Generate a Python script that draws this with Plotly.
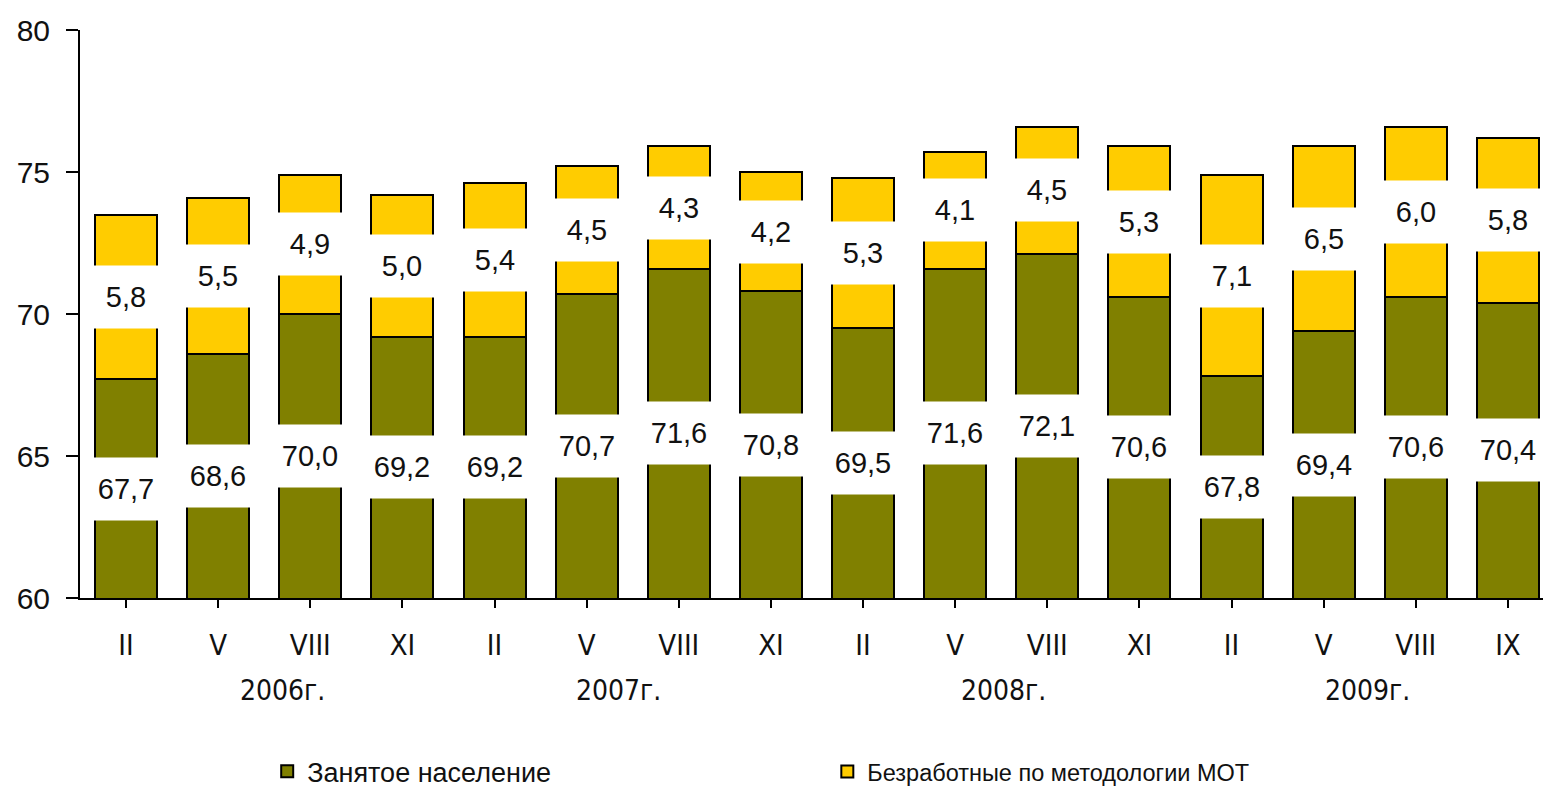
import plotly.graph_objects as go

categories = ["II", "V", "VIII", "XI", "II", "V", "VIII", "XI",
              "II", "V", "VIII", "XI", "II", "V", "VIII", "IX"]
employed = [67.7, 68.6, 70.0, 69.2, 69.2, 70.7, 71.6, 70.8,
            69.5, 71.6, 72.1, 70.6, 67.8, 69.4, 70.6, 70.4]
unemployed = [5.8, 5.5, 4.9, 5.0, 5.4, 4.5, 4.3, 4.2,
              5.3, 4.1, 4.5, 5.3, 7.1, 6.5, 6.0, 5.8]
years = ["2006г.", "2007г.", "2008г.", "2009г."]
year_pos = [1.7, 5.34, 9.52, 13.48]
series_names = ["Занятое население", "Безработные по методологии МОТ"]
y_min, y_max = 60, 80

GREEN = "#808000"
YELLOW = "#FFCC00"
FONT = "Liberation Sans, Arial, sans-serif"
NARROW = "Liberation Sans Narrow, Arial Narrow, DejaVu Sans Condensed, Liberation Sans, sans-serif"

x_idx = list(range(len(categories)))

fig = go.Figure()
fig.add_trace(go.Bar(
    x=x_idx, y=employed, name=series_names[0],
    marker=dict(color=GREEN, line=dict(color="black", width=2)),
    legend="legend", showlegend=True,
))
fig.add_trace(go.Bar(
    x=x_idx, y=unemployed, name=series_names[1],
    marker=dict(color=YELLOW, line=dict(color="black", width=2)),
    legend="legend2", showlegend=True,
))

def fmt(v):
    return f"{v:.1f}".replace(".", ",")

annotations = []
for i, (e, u) in enumerate(zip(employed, unemployed)):
    annotations.append(dict(
        x=i, y=(y_min + e) / 2, xref="x", yref="y", text=fmt(e),
        showarrow=False, bgcolor="white", width=66, height=60,
        font=dict(family=FONT, size=29, color="#111"),
    ))
    annotations.append(dict(
        x=i, y=e + u / 2, xref="x", yref="y", text=fmt(u),
        showarrow=False, bgcolor="white", width=66, height=60,
        font=dict(family=FONT, size=29, color="#111"),
    ))
for yr, xp in zip(years, year_pos):
    annotations.append(dict(
        x=xp, y=-0.162, xref="x", yref="paper", text=yr,
        showarrow=False, yanchor="middle",
        font=dict(family=NARROW, size=28, color="#111"),
    ))

legend_common = dict(yanchor="middle", xanchor="left", orientation="h",
                     bgcolor="rgba(0,0,0,0)", visible=True)

fig.update_layout(
    width=1551, height=783,
    margin=dict(l=72, r=5, t=22, b=193, autoexpand=False),
    barmode="stack", bargap=0.327,
    plot_bgcolor="white", paper_bgcolor="white",
    showlegend=True,
    annotations=annotations,
    legend=dict(x=0.127, y=-0.306, font=dict(family=FONT, size=27, color="#111"),
                **legend_common),
    legend2=dict(x=0.507, y=-0.306, font=dict(family=FONT, size=23.5, color="#111"),
                 **legend_common),
    xaxis=dict(
        tickmode="array", tickvals=x_idx, ticktext=categories,
        range=[-0.5, len(categories) - 0.5], automargin=False,
        tickson="boundaries", ticks="outside", ticklen=8, tickwidth=2,
        tickcolor="black", showline=True, linewidth=2, linecolor="black",
        showgrid=False, zeroline=False, ticklabelstandoff=12,
        tickfont=dict(family=NARROW, size=29, color="#111"),
    ),
    yaxis=dict(
        range=[y_min, y_max], dtick=5, ticks="outside", ticklen=12, tickwidth=2,
        tickcolor="black", showline=True, linewidth=2, linecolor="black",
        showgrid=False, zeroline=False, automargin=False, ticklabelstandoff=10,
        tickfont=dict(family=FONT, size=30, color="#111"),
    ),
)

fig.write_html("out.html")
